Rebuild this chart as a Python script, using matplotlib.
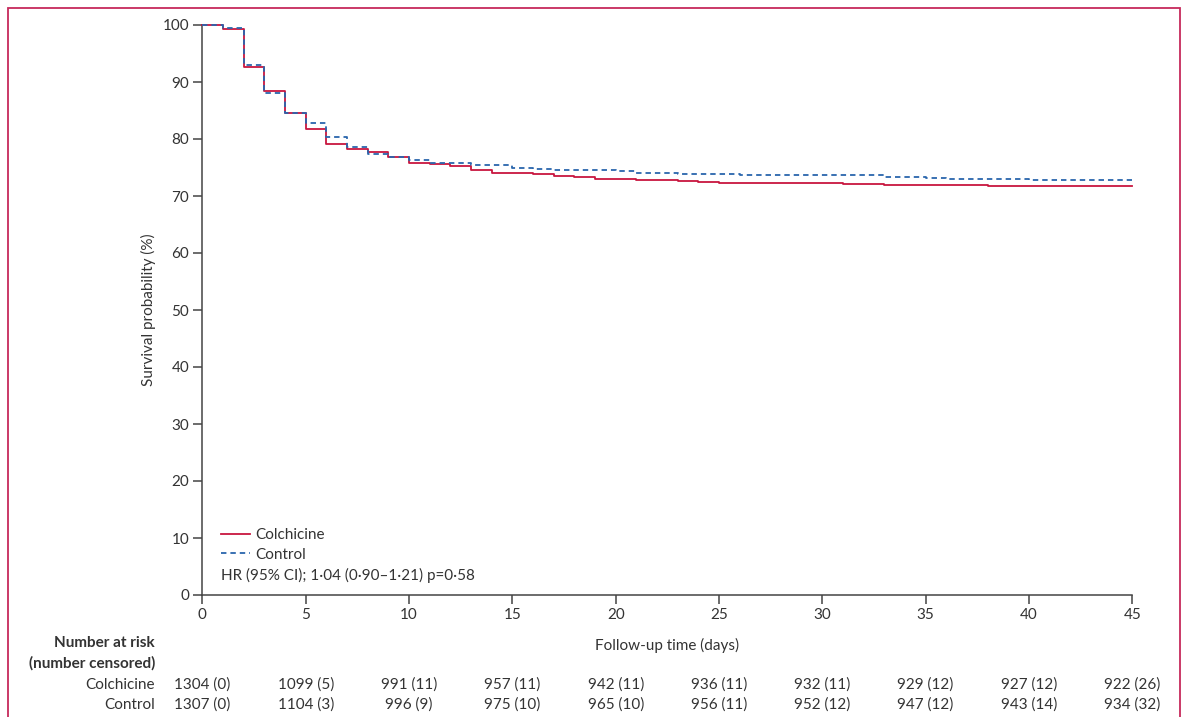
import matplotlib
matplotlib.use("Agg")
import matplotlib.pyplot as plt
from matplotlib.patches import Rectangle
from matplotlib.transforms import blended_transform_factory

plt.rcParams['font.family'] = ['Lato', 'DejaVu Sans']

# ---- data ----
colch_t = [0, 1, 2, 3, 4, 5, 6, 7, 8, 9, 10, 11, 12, 13, 14, 15, 16, 17, 18, 19, 20, 21,
           23, 24, 25, 28, 31, 33, 35, 38, 44, 45]
colch_s = [100, 99.3, 92.7, 88.4, 84.6, 81.75, 79.2, 78.2, 77.7, 76.8, 75.8, 75.55, 75.2,
           74.55, 74.1, 74.0, 73.85, 73.55, 73.3, 73.0, 72.9, 72.8, 72.65, 72.45, 72.35,
           72.2, 72.05, 72.0, 71.9, 71.8, 71.7, 71.7]
ctrl_t = [0, 1, 2, 3, 4, 5, 6, 7, 8, 9, 10, 11, 13, 15, 16, 17, 18, 20, 21, 23, 26, 29,
          33, 35, 36, 40, 45]
ctrl_s = [100, 99.5, 93.0, 88.1, 84.6, 82.75, 80.35, 78.65, 77.4, 76.8, 76.25, 75.85,
          75.5, 75.0, 74.8, 74.6, 74.5, 74.3, 74.1, 73.9, 73.75, 73.6, 73.35, 73.2, 73.05,
          72.85, 72.85]

risk_days = [0, 5, 10, 15, 20, 25, 30, 35, 40, 45]
risk_colch = ["1304 (0)", "1099 (5)", "991 (11)", "957 (11)", "942 (11)", "936 (11)",
              "932 (11)", "929 (12)", "927 (12)", "922 (26)"]
risk_ctrl = ["1307 (0)", "1104 (3)", "996 (9)", "975 (10)", "965 (10)", "956 (11)",
             "952 (12)", "947 (12)", "943 (14)", "934 (32)"]

x_ticks = [0, 5, 10, 15, 20, 25, 30, 35, 40, 45]
y_ticks = [0, 10, 20, 30, 40, 50, 60, 70, 80, 90, 100]

RED = '#c8163f'
BLUE = '#2a66ad'
TXT = '#333333'
W, H = 1184, 717

fig = plt.figure(figsize=(W / 100, H / 100), dpi=100)
left, right, top, bottom = 202.4, 1132.3, 25, 595
ax = fig.add_axes([left / W, 1 - bottom / H, (right - left) / W, (bottom - top) / H])

l1, = ax.plot(colch_t, colch_s, drawstyle='steps-post', color=RED, lw=1.3,
              label='Colchicine', clip_on=False, zorder=3)
l2, = ax.plot(ctrl_t, ctrl_s, drawstyle='steps-post', color=BLUE, lw=1.3,
              ls=(0, (3, 2.2)), label='Control', clip_on=False, zorder=4)

ax.set_xlim(0, 45)
ax.set_ylim(0, 100)
ax.set_xticks(x_ticks)
ax.set_yticks(y_ticks)
for s in ['top', 'right']:
    ax.spines[s].set_visible(False)
for s in ['left', 'bottom']:
    ax.spines[s].set_color('#444444')
    ax.spines[s].set_linewidth(1.1)
ax.tick_params(axis='both', length=6.5, width=1.1, color='#444444', labelsize=11,
               labelcolor=TXT, pad=3)

ax.set_ylabel('Survival probability (%)', fontsize=11, color=TXT, labelpad=5)
ax.set_xlabel('Follow-up time (days)', fontsize=11, color=TXT, labelpad=11)

leg = ax.legend(handles=[l1, l2], loc='upper left',
                bbox_to_anchor=(221 / W, 1 - 528 / H), bbox_transform=fig.transFigure,
                frameon=False, fontsize=11, handlelength=1.9, handletextpad=0.35,
                labelspacing=0.38, borderpad=0, borderaxespad=0)
for t in leg.get_texts():
    t.set_color(TXT)

fig.text(221 / W, 1 - 575 / H, 'HR (95% CI); 1·04 (0·90–1·21) p=0·58', fontsize=11,
         color=TXT, va='center', ha='left')

# number at risk table
fig.text(155 / W, 1 - 643 / H, 'Number at risk', fontsize=11, fontweight='bold',
         color=TXT, ha='right', va='center')
fig.text(155 / W, 1 - 663 / H, '(number censored)', fontsize=11, fontweight='bold',
         color=TXT, ha='right', va='center')
fig.text(155 / W, 1 - 685 / H, 'Colchicine', fontsize=11, color=TXT, ha='right', va='center')
fig.text(155 / W, 1 - 705 / H, 'Control', fontsize=11, color=TXT, ha='right', va='center')
trans = blended_transform_factory(ax.transData, fig.transFigure)
for d, a, b in zip(risk_days, risk_colch, risk_ctrl):
    ax.text(d, 1 - 685 / H, a, transform=trans, fontsize=11, color=TXT, ha='center',
            va='center', clip_on=False)
    ax.text(d, 1 - 705 / H, b, transform=trans, fontsize=11, color=TXT, ha='center',
            va='center', clip_on=False)

# frame
fig.patches.append(Rectangle((7.5 / W, -0.2), (1180 - 7.5) / W, 1.2 - 7.5 / H,
                             transform=fig.transFigure, fill=False, ec='#c62a5c',
                             lw=1.3, clip_on=False))

fig.savefig('out.png', dpi=100)
